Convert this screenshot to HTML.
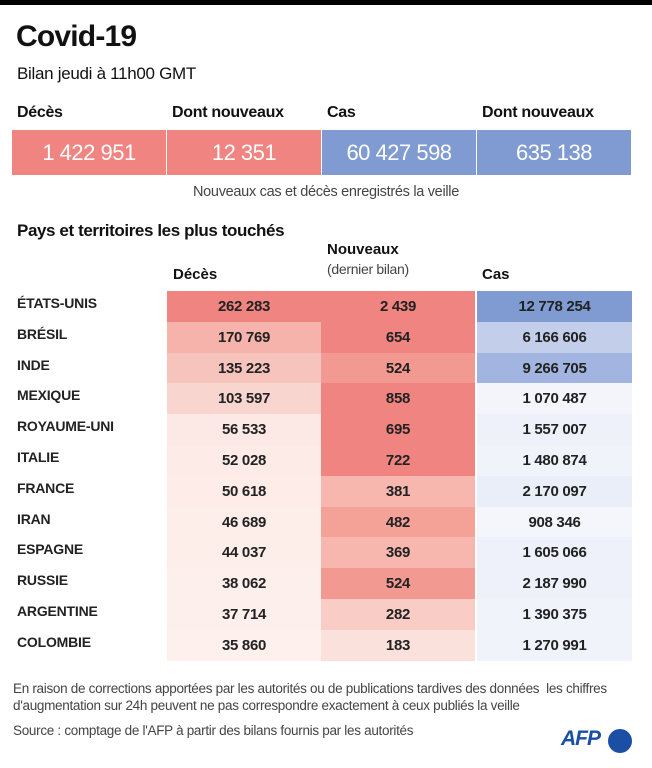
<!DOCTYPE html>
<html><head><meta charset="utf-8"><style>
body{margin:0;width:652px;height:768px;background:#fff;font-family:"Liberation Sans",sans-serif;color:#111;position:relative;overflow:hidden}
.a{position:absolute;white-space:nowrap}
.bar{left:0;top:0;width:652px;height:5px;background:#000}
.box{top:130px;height:45px;width:154px;color:#fff;font-size:22px;text-align:center;line-height:45px;letter-spacing:-0.5px}
.lb{top:104px;font-size:16px;font-weight:bold;letter-spacing:-0.3px}
.c{height:31px;width:154px;text-align:center;line-height:31px;font-size:15px;font-weight:bold;color:#222;letter-spacing:-0.3px}
.n{left:17px;font-size:14px;font-weight:bold;line-height:31px;color:#222;letter-spacing:-0.2px}
.f{font-size:13.5px;color:#444;letter-spacing:-0.3px}
</style></head><body>
<div class="a bar"></div>
<div class="a" style="left:16px;top:20px;font-size:30px;font-weight:bold;letter-spacing:-0.8px">Covid-19</div>
<div class="a" style="left:17px;top:64px;font-size:17px;letter-spacing:-0.3px">Bilan jeudi à 11h00 GMT</div>
<div class="a lb" style="left:17px">Décès</div>
<div class="a lb" style="left:172px">Dont nouveaux</div>
<div class="a lb" style="left:327px">Cas</div>
<div class="a lb" style="left:482px">Dont nouveaux</div>
<div class="a box" style="left:12px;background:#ef8480">1 422 951</div>
<div class="a box" style="left:167px;background:#ef8480">12 351</div>
<div class="a box" style="left:322px;background:#7f9bd2">60 427 598</div>
<div class="a box" style="left:477px;background:#7f9bd2">635 138</div>
<div class="a" style="left:0;width:652px;text-align:center;top:184px;font-size:14.5px;color:#444;letter-spacing:-0.3px">Nouveaux cas et décès enregistrés la veille</div>
<div class="a" style="left:17px;top:221px;font-size:17px;font-weight:bold;letter-spacing:-0.4px">Pays et territoires les plus touchés</div>
<div class="a" style="left:173px;top:266px;font-size:15px;font-weight:bold">Décès</div>
<div class="a" style="left:327px;top:241px;font-size:15px;font-weight:bold">Nouveaux</div>
<div class="a" style="left:327px;top:261px;font-size:14px;color:#444;letter-spacing:-0.3px">(dernier bilan)</div>
<div class="a" style="left:482px;top:266px;font-size:15px;font-weight:bold">Cas</div>
<div id="t"></div>
<div class="a f" style="left:13px;top:681px">En raison de corrections apportées par les autorités ou de publications tardives des données&nbsp; les chiffres</div>
<div class="a f" style="left:13px;top:698px">d'augmentation sur 24h peuvent ne pas correspondre exactement à ceux publiés la veille</div>
<div class="a f" style="left:13px;top:723px">Source : comptage de l'AFP à partir des bilans fournis par les autorités</div>
<div class="a" style="left:561px;top:727px;font-size:21px;font-weight:bold;font-style:italic;color:#1a4fa3;letter-spacing:-1px">AFP</div>
<div class="a" style="left:608px;top:729px;width:24px;height:24px;border-radius:50%;background:#1a4fa3"></div>
<script>
var d=[["ÉTATS-UNIS","262 283","#ef8480","2 439","#ef8480","12 778 254","#7f9bd2"],
["BRÉSIL","170 769","#f5b3ac","654","#ef8480","6 166 606","#c2ceea"],
["INDE","135 223","#f7c4bd","524","#f29a92","9 266 705","#a2b4e0"],
["MEXIQUE","103 597","#f9d5cf","858","#ef8480","1 070 487","#f3f5fb"],
["ROYAUME-UNI","56 533","#fce9e5","695","#ef8480","1 557 007","#eef1f9"],
["ITALIE","52 028","#fdebe7","722","#ef8480","1 480 874","#f1f3fa"],
["FRANCE","50 618","#fdece8","381","#f7b7ae","2 170 097","#eaeef8"],
["IRAN","46 689","#fdeeea","482","#f4a198","908 346","#f5f6fb"],
["ESPAGNE","44 037","#fdeeea","369","#f7b7ae","1 605 066","#eef1f9"],
["RUSSIE","38 062","#fdefec","524","#f29a92","2 187 990","#eef1f9"],
["ARGENTINE","37 714","#fdefec","282","#f9cdc6","1 390 375","#f1f3fa"],
["COLOMBIE","35 860","#fdf0ed","183","#fbe1dc","1 270 991","#f1f3fa"]];
var h="";d.forEach(function(r,i){var y=291+i*30.8;
h+='<div class="a n" style="top:'+(y-3)+'px">'+r[0]+'</div>';
h+='<div class="a c" style="left:167px;top:'+y+'px;background:'+r[2]+'">'+r[1]+'</div>';
h+='<div class="a c" style="left:321px;top:'+y+'px;background:'+r[4]+'">'+r[3]+'</div>';
h+='<div class="a c" style="left:477px;top:'+y+'px;width:155px;background:'+r[6]+'">'+r[5]+'</div>';});
document.getElementById("t").innerHTML=h;
</script>
</body></html>
